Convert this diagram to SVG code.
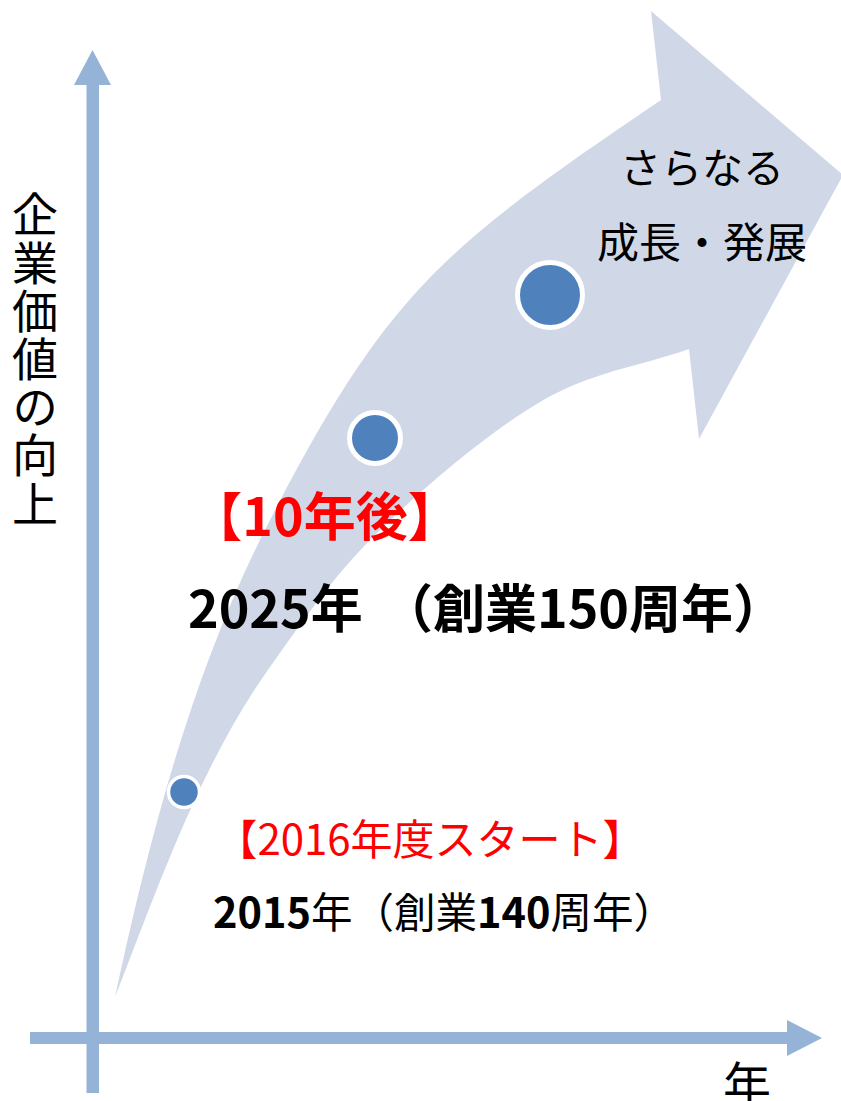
<svg xmlns="http://www.w3.org/2000/svg" width="841" height="1101" viewBox="0 0 841 1101">
<style>
.ax{fill:#95B3D7}
.band{fill:#D0D8E8}
.dot{fill:#4F81BD;stroke:#FFFFFF}
.t{font-family:"Noto Sans CJK JP","Noto Sans",sans-serif;fill:#000000}
.red{fill:#FF0000}
.b{font-weight:bold}
</style>
<rect width="841" height="1101" fill="#FFFFFF"/>
<g id="axes">
  <rect class="ax" x="86.5" y="84" width="12.5" height="1009"/>
  <polygon class="ax" points="74,85 111,85 92.5,50"/>
  <rect class="ax" x="30" y="1032" width="758" height="12"/>
  <polygon class="ax" points="787,1020 787,1056 822,1038"/>
</g>
<g id="growth-arrow">
  <path class="band" d="M115,997 C150,834 193.5,668.5 270,520 C389,289 446,246 661,100 L651,11 L843,175 L699,439 L689,349 C639.3,366.7 592,371.3 540,402 C488,432.7 422,488.8 377,533 C332,577.2 299.5,625.8 270,667 C200,765 159,885 115,997 Z"/>
</g>
<g id="milestone-2015">
  <circle class="dot" cx="184" cy="792" r="15.5" stroke-width="3.5"/>
</g>
<g id="milestone-2025">
  <circle class="dot" cx="375" cy="438" r="25.5" stroke-width="5"/>
</g>
<g id="milestone-future">
  <circle class="dot" cx="550" cy="295" r="32.5" stroke-width="5"/>
</g>
<g id="label-future">
  <text class="t" x="702" y="183" font-size="41" text-anchor="middle">さらなる</text>
  <text class="t" x="702" y="258" font-size="42" text-anchor="middle">成長・発展</text>
</g>
<g id="label-2025">
  <text class="t red b" x="325" y="536" font-size="52" text-anchor="middle">【10年後】</text>
  <text class="t b" y="628" font-size="52"><tspan x="188">2025年</tspan><tspan x="381">（創業150周年）</tspan></text>
</g>
<g id="label-2015">
  <text class="t red" x="430" y="855" font-size="42" text-anchor="middle">【2016年度スタート】</text>
  <text class="t" x="213" y="928" font-size="41.5"><tspan font-weight="bold">2015</tspan>年（創業<tspan font-weight="bold">140</tspan>周年）</text>
</g>
<g id="axis-labels">
  <text class="t" x="35" y="191" font-size="46" writing-mode="vertical-rl" letter-spacing="2.2">企業価値の向上</text>
  <text class="t" x="747" y="1102" font-size="48" text-anchor="middle">年</text>
</g>
</svg>
